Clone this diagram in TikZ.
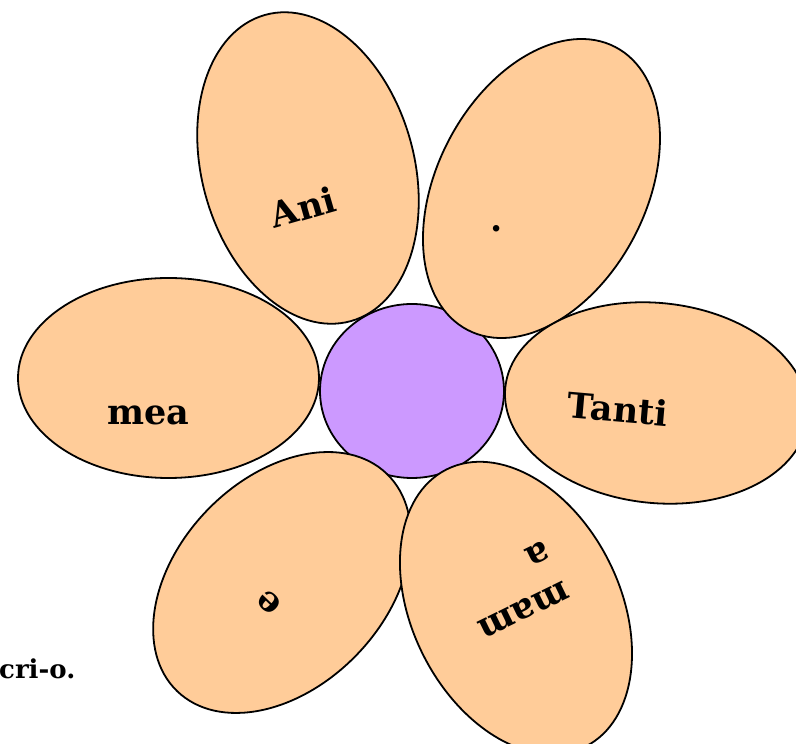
\documentclass[tikz,border=0pt]{standalone}
\usepackage{fontspec}
\setmainfont{DejaVu Serif}
\definecolor{peach}{HTML}{FFCC99}
\definecolor{lilac}{HTML}{CC99FF}
\begin{document}
\begin{tikzpicture}[x=1pt,y=1pt,
  petal/.style={draw=black,line width=1.8pt,fill=peach},
  core/.style={draw=black,line width=1.8pt,fill=lilac},
  word/.style={inner sep=0pt,font=\fontsize{35}{44}\selectfont\bfseries}]
\useasboundingbox (0,0) rectangle (796,744);
% centre
\draw[core] (412,353) ellipse (92 and 87);
% petals
\coordinate (pA) at (308,576);
\coordinate (pD) at (541.5,555.5);
\coordinate (pM) at (168.5,366);
\coordinate (pT) at (656.5,341);
\coordinate (pE) at (282,161.5);
\coordinate (pN) at (516,136);
\draw[petal,rotate around={15.7:(pA)}] (pA) ellipse (106 and 159);
\draw[petal,rotate around={-27.6:(pD)}] (pD) ellipse (104.5 and 159.6);
\draw[petal] (pM) ellipse (150.5 and 100);
\draw[petal,rotate around={-6:(pT)}] (pT) ellipse (152 and 100);
\draw[petal,rotate around={-44:(pE)}] (pE) ellipse (104 and 151);
\draw[petal,rotate around={26.6:(pN)}] (pN) ellipse (104 and 155);
% words
\node[word,rotate=16] (ani) at (303,537) {Ani};
\node[word] (dot) at (497,515) {.};
\node[word] (mea) at (148,329) {mea};
\node[word,rotate=-5] (tanti) at (618,335) {Tanti};
\node[word,rotate=136] (e) at (269,142) {e};
\node[word,rotate=206,align=left] (mama) at (514,154) {mam\\a};
\node[word,anchor=base west,font=\fontsize{26}{32}\selectfont\bfseries] (crio) at (-1,65) {cri-o.};
\end{tikzpicture}
\end{document}
